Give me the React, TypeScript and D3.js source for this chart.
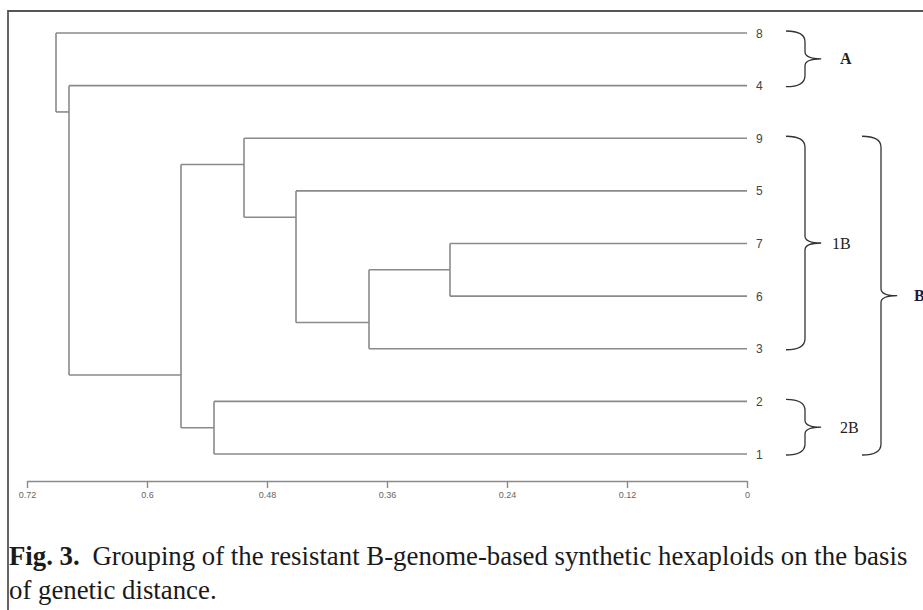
import React, { useEffect, useRef } from "react";
import * as d3 from "d3";

const width = 923;
const height = 610;

// leaf order, top to bottom
const leaves = ["8", "4", "9", "5", "7", "6", "3", "2", "1"];

// internal nodes: [upper child, lower child] and join distance
const nodeIds = ["n76", "n376", "n5", "n9", "n21", "nB", "n4", "root"];
const nodeChildren = [
  ["7", "6"],
  ["n76", "3"],
  ["5", "n376"],
  ["9", "n5"],
  ["2", "1"],
  ["n9", "n21"],
  ["4", "nB"],
  ["8", "n4"],
];
const nodeHeights = [0.297, 0.378, 0.451, 0.503, 0.533, 0.566, 0.678, 0.691];

const ticks = [0.72, 0.6, 0.48, 0.36, 0.24, 0.12, 0];

// cluster braces
const groupLabels = ["A", "1B", "2B", "B"];
const groupFirst = ["8", "9", "2", "9"];
const groupLast = ["4", "3", "1", "1"];
const groupBold = [true, false, false, true];
const groupColumn = [0, 0, 0, 1];

const captionBold = "Fig. 3.";
const captionLine1 = " Grouping of the resistant B-genome-based synthetic hexaploids on the basis";
const captionLine2 = "of genetic distance.";

const lineColor = "#8a8a8a";

function bracePath(x0: number, y0: number, y1: number, w: number) {
  const xm = x0 + w;
  const tip = xm + w * 0.85;
  const ym = (y0 + y1) / 2;
  const re = 11;
  const rt = 7;
  return `M${x0},${y0} Q${xm},${y0} ${xm},${y0 + re} L${xm},${ym - rt} Q${xm},${ym} ${tip},${ym}` +
    ` Q${xm},${ym} ${xm},${ym + rt} L${xm},${y1 - re} Q${xm},${y1} ${x0},${y1}`;
}

const App = () => {
  const ref = useRef<SVGSVGElement>(null);

  useEffect(() => {
    const svg = d3.select(ref.current);
    svg.selectAll("*").remove();

    const x = d3.scaleLinear().domain([0.72, 0]).range([27, 747]);
    const y = d3.scalePoint<string>().domain(leaves).range([33, 454]);

    // build nested tree from the arrays
    const lookup = new Map<string, any>();
    leaves.forEach((l) => lookup.set(l, { name: l, h: 0 }));
    nodeIds.forEach((id, i) => {
      lookup.set(id, {
        name: id,
        h: nodeHeights[i],
        children: nodeChildren[i].map((c) => lookup.get(c)),
      });
    });
    const root = d3.hierarchy(lookup.get("root"));

    // connection point: leaf y, or halfway between the two subtrees' adjacent leaves
    const conn = (n: any): number => {
      if (!n.children) return y(n.data.name)!;
      const a = n.children[0].leaves();
      const b = n.children[1].leaves();
      return (y(a[a.length - 1].data.name)! + y(b[0].data.name)!) / 2;
    };

    const g = svg.append("g").attr("fill", "none").attr("stroke", lineColor).attr("stroke-width", 1.6);
    root.each((n: any) => {
      const nx = x(n.data.h);
      if (n.children) {
        g.append("line")
          .attr("x1", nx).attr("x2", nx)
          .attr("y1", conn(n.children[0])).attr("y2", conn(n.children[1]));
      }
      if (n.parent) {
        g.append("line")
          .attr("x1", x(n.parent.data.h)).attr("x2", nx)
          .attr("y1", conn(n)).attr("y2", conn(n));
      }
    });

    // leaf labels
    svg.append("g")
      .selectAll("text")
      .data(leaves)
      .join("text")
      .attr("x", x(0) + 9)
      .attr("y", (d) => y(d)! + 4.5)
      .attr("font-family", "Liberation Sans, Arial, sans-serif")
      .attr("font-size", 12)
      .attr("fill", "#444")
      .text((d) => d);

    // axis
    const axis = svg.append("g")
      .attr("transform", "translate(0,481)")
      .call(
        d3.axisBottom(x)
          .tickValues(ticks)
          .tickSize(7)
          .tickSizeOuter(0)
          .tickPadding(4)
          .tickFormat((d) => String(d))
      );
    axis.select(".domain").attr("stroke", lineColor).attr("stroke-width", 1.4);
    axis.selectAll(".tick line").attr("stroke", lineColor).attr("stroke-width", 1.4);
    axis.selectAll(".tick text")
      .attr("font-family", "Liberation Sans, Arial, sans-serif")
      .attr("font-size", 9)
      .attr("fill", "#666");

    // braces
    const bg = svg.append("g");
    groupLabels.forEach((lab, i) => {
      const y0 = y(groupFirst[i])! - 2;
      const y1 = y(groupLast[i])! + 1;
      const x0 = groupColumn[i] === 0 ? 786 : 862;
      const w = 19;
      bg.append("path")
        .attr("d", bracePath(x0, y0, y1, w))
        .attr("fill", "none")
        .attr("stroke", "#333")
        .attr("stroke-width", 1.3);
      const tx = groupColumn[i] === 0 ? (lab === "1B" ? 832 : 840) : 914;
      bg.append("text")
        .attr("x", tx)
        .attr("y", (y0 + y1) / 2 + 5.5)
        .attr("font-family", "Liberation Serif, Times New Roman, serif")
        .attr("font-size", groupBold[i] ? 16 : 16)
        .attr("font-weight", groupBold[i] ? "bold" : "normal")
        .attr("fill", lab === "B" ? "#1a1a3a" : "#222")
        .text(lab);
    });

    // caption
    const capSize = 26.8;
    const cap = svg.append("text")
      .attr("x", 9)
      .attr("y", 565)
      .attr("font-family", "Liberation Serif, Times New Roman, serif")
      .attr("font-size", capSize)
      .attr("fill", "#1a1a1a");
    cap.append("tspan").attr("font-weight", "bold").text(captionBold);
    cap.append("tspan").attr("dx", 6).text(captionLine1);
    svg.append("text")
      .attr("x", 9)
      .attr("y", 599)
      .attr("font-family", "Liberation Serif, Times New Roman, serif")
      .attr("font-size", capSize)
      .attr("fill", "#1a1a1a")
      .text(captionLine2);

    // frame
    svg.append("path")
      .attr("d", `M8,${height} V11 H${width}`)
      .attr("fill", "none")
      .attr("stroke", "#555")
      .attr("stroke-width", 1.8);
  }, []);

  return (
    <svg
      ref={ref}
      width={width}
      height={height}
      style={{ position: "absolute", left: 0, top: 0, background: "#fff" }}
    />
  );
};

export default App;
